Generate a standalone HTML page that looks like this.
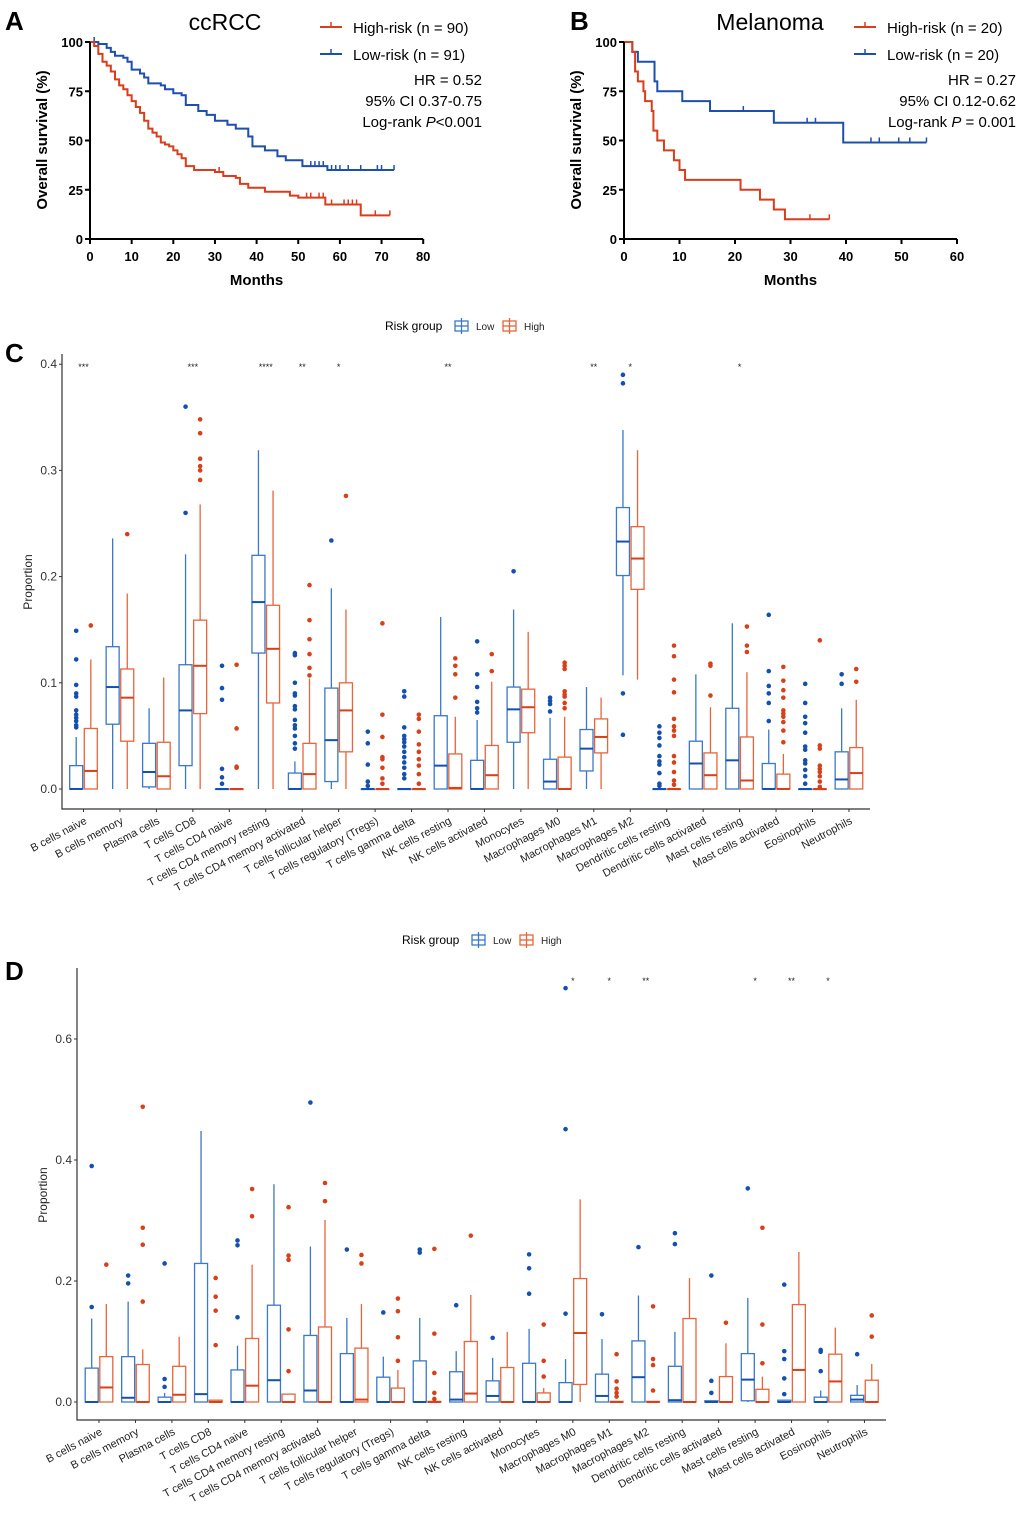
<!DOCTYPE html>
<html><head><meta charset="utf-8"><style>
body{margin:0;background:#fff}
svg{display:block;font-family:"Liberation Sans",Arial,sans-serif}
</style></head><body>
<svg id="fig" width="1020" height="1524" viewBox="0 0 1020 1524" xmlns="http://www.w3.org/2000/svg">
<g id="panelA"></g>
<g id="panelB"></g>
<g id="panelC"></g>
<g id="panelD"></g>
</svg>
<script>
// ---------- KM data ----------
const aHighT=[0,1,2,3,4,5,6,7,8,9,10,11,12,13,14,15,16,17,18,19,20,21,22,23,25,30,32,35,36,38,42,48,50,56.5,65,72];
const aHighS=[100,98,94,90,88,85,81,78,76,73,70,67,64,60,56,54,52,49,48,47,45,43,41,37,35,34,32,31,28,26,24,22,21,17.5,12,12];
const aLowT=[0,2,4,5,6,8,9,10,12,13,14,17,18,20,22,23,26,28,30,33,35,38,39,42,45,47,51,57,73];
const aLowS=[100,99,97,95,93,92,90,86,84,82,79,78,76,74,73,68,65,63,60,58,56,52,47,45,42,40,37,35,35];
const aHighCens=[31,52,53,55,56,58,61,62,63,64,68.5,72];
const aLowCens=[1,53,54,55,56,58,59,60,62,65,69,70,73];
const bHighT=[0,1.5,2,2.5,3.5,3.8,5,5.3,6,7.2,9,10,11,21,24.5,27,29,37];
const bHighS=[100,95,85,80,75,70,65,55,50,45,40,35,30,25,20,15,10,10];
const bLowT=[0,1.5,2.5,5.5,6,10.5,15.5,27,39.5,54.5];
const bLowS=[100,95,90,80,75,70,65,59,49,49];
const bHighCens=[33.5,37];
const bLowCens=[21.5,27,33,34.5,44.5,46,49.5,51.5,54.5];
const aXTicks=[0,10,20,30,40,50,60,70,80];
const bXTicks=[0,10,20,30,40,50,60];
const kmYTicks=[0,25,50,75,100];

// ---------- Box data ----------
const cellTypes=["B cells naive","B cells memory","Plasma cells","T cells CD8","T cells CD4 naive","T cells CD4 memory resting","T cells CD4 memory activated","T cells follicular helper","T cells regulatory (Tregs)","T cells gamma delta","NK cells resting","NK cells activated","Monocytes","Macrophages M0","Macrophages M1","Macrophages M2","Dendritic cells resting","Dendritic cells activated","Mast cells resting","Mast cells activated","Eosinophils","Neutrophils"];
// [lowWhisker, q1, median, q3, highWhisker]
const cLowBox=[[0,0,0,0.022,0.049],[0,0.061,0.096,0.134,0.236],[0,0.002,0.016,0.043,0.076],[0,0.022,0.074,0.117,0.221],[0,0,0,0,0],[0,0.128,0.176,0.22,0.319],[0,0,0,0.015,0.026],[0,0.007,0.046,0.095,0.189],[0,0,0,0,0],[0,0,0,0,0],[0,0,0.022,0.069,0.162],[0,0,0,0.027,0.065],[0,0.044,0.075,0.096,0.169],[0,0,0.007,0.028,0.067],[0,0.017,0.038,0.056,0.096],[0.107,0.201,0.233,0.265,0.338],[0,0,0,0,0],[0,0,0.024,0.045,0.108],[0,0,0.027,0.076,0.156],[0,0,0,0.024,0.056],[0,0,0,0,0],[0,0,0.009,0.035,0.076]];
const cHighBox=[[0,0,0.017,0.057,0.122],[0,0.045,0.086,0.113,0.184],[0,0,0.012,0.044,0.105],[0,0.071,0.116,0.159,0.268],[0,0,0,0,0],[0,0.081,0.132,0.173,0.281],[0,0,0.014,0.043,0.104],[0,0.035,0.074,0.1,0.169],[0,0,0,0,0],[0,0,0,0,0],[0,0,0.001,0.033,0.068],[0,0,0.013,0.041,0.101],[0,0.053,0.077,0.094,0.148],[0,0,0,0.03,0.068],[0,0.034,0.049,0.066,0.086],[0.103,0.188,0.217,0.247,0.319],[0,0,0,0,0],[0,0,0.013,0.034,0.077],[0,0,0.008,0.049,0.11],[0,0,0,0.014,0.033],[0,0,0,0,0],[0,0,0.015,0.039,0.084]];
const cLowOut=[[0.149,0.122,0.098,0.09,0.087,0.074,0.07,0.067,0.064,0.06,0.058],[],[],[0.36,0.26],[0.116,0.095,0.084,0.019,0.011,0.005],[],[0.128,0.126,0.1,0.09,0.088,0.078,0.075,0.065,0.06,0.057,0.05,0.043,0.038],[0.234],[0.054,0.043,0.023,0.007,0.003],[0.092,0.087,0.058,0.05,0.047,0.044,0.04,0.035,0.03,0.025,0.02,0.014,0.01],[],[0.139,0.108,0.096,0.082,0.076,0.072],[0.205],[0.086,0.083,0.08,0.073],[],[0.39,0.382,0.09,0.051],[0.059,0.053,0.048,0.041,0.031,0.026,0.023,0.015,0.005,0.003],[],[],[0.164,0.111,0.097,0.09,0.081,0.064],[0.099,0.081,0.068,0.062,0.053,0.04,0.037,0.027,0.024,0.018,0.012,0.005],[0.108,0.099]];
const cHighOut=[[0.154],[0.24],[],[0.348,0.335,0.311,0.304,0.3,0.291],[0.117,0.057,0.021,0.02],[],[0.192,0.159,0.141,0.127,0.114,0.107],[0.276],[0.156,0.07,0.049,0.03,0.028,0.02,0.01,0.005],[0.07,0.066,0.054,0.042,0.035,0.028,0.022,0.014,0.005],[0.123,0.116,0.108,0.086],[0.127,0.111],[],[0.119,0.116,0.113,0.092,0.089,0.087,0.081,0.076],[],[],[0.135,0.125,0.103,0.091,0.066,0.059,0.055,0.05,0.031,0.025,0.016,0.008,0.004],[0.118,0.116,0.088],[0.153,0.135,0.129],[0.115,0.102,0.093,0.086,0.074,0.071,0.068,0.063,0.055,0.044],[0.14,0.041,0.038,0.022,0.019,0.016,0.012,0.007,0.002],[0.113,0.101]];
const cSig=["***","","","***","","****","**","*","","","**","","","","**","*","","","*","","",""];
const cYTicks=[0,0.1,0.2,0.3,0.4];

const dLowBox=[[0,0,0,0.056,0.138],[0,0,0.007,0.075,0.166],[0,0,0,0.008,0.015],[0,0,0.013,0.229,0.448],[0,0,0,0.053,0.093],[0,0,0.036,0.16,0.36],[0,0,0.019,0.11,0.257],[0,0,0,0.08,0.139],[0,0,0,0.041,0.075],[0,0,0,0.068,0.139],[0,0,0.004,0.05,0.084],[0,0,0.01,0.035,0.073],[0,0,0,0.064,0.121],[0,0,0,0.032,0.071],[0,0,0.01,0.046,0.104],[0,0,0.041,0.101,0.176],[0,0,0.003,0.059,0.116],[0,0,0,0.002,0.002],[0,0.002,0.037,0.08,0.172],[0,0,0,0.003,0.003],[0,0,0,0.008,0.019],[0,0,0.004,0.011,0.028]];
const dHighBox=[[0,0,0.024,0.075,0.162],[0,0,0,0.062,0.087],[0,0,0.012,0.059,0.108],[0,0,0,0.003,0.003],[0,0,0.027,0.105,0.227],[0,0,0,0.013,0.013],[0,0,0,0.124,0.301],[0,0,0.004,0.089,0.162],[0,0,0,0.023,0.053],[0,0,0,0.001,0.001],[0,0,0.014,0.1,0.177],[0,0,0,0.057,0.116],[0,0,0,0.015,0.023],[0,0.029,0.114,0.204,0.335],[0,0,0,0.001,0.001],[0,0,0,0.001,0.001],[0,0,0,0.138,0.205],[0,0,0,0.042,0.097],[0,0,0,0.021,0.042],[0,0,0.053,0.161,0.248],[0,0,0.034,0.079,0.123],[0,0,0,0.036,0.063]];
const dLowOut=[[0.39,0.157],[0.209,0.196],[0.229,0.038,0.025],[],[0.267,0.259,0.14],[],[0.495],[0.252],[0.148],[0.252,0.247],[0.16],[0.106],[0.244,0.221,0.179],[0.684,0.451,0.146],[0.145],[0.256],[0.279,0.261],[0.209,0.035,0.015],[0.353],[0.194,0.084,0.071,0.039,0.013],[0.086,0.083,0.051],[0.079]];
const dHighOut=[[0.227],[0.488,0.288,0.26,0.166],[],[0.205,0.174,0.151,0.094],[0.352,0.307],[0.322,0.242,0.235,0.12,0.051],[0.362,0.332],[0.243,0.229],[0.171,0.15,0.107,0.068],[0.253,0.113,0.048,0.015,0.005],[0.275],[],[0.128,0.068,0.042],[],[0.079,0.034,0.022,0.015,0.009],[0.158,0.071,0.061,0.019],[],[0.131],[0.288,0.128,0.064],[],[],[0.143,0.108]];
const dSig=["","","","","","","","","","","","","","*","*","**","","","*","**","*",""];
const dYTicks=[0,0.2,0.4,0.6];

// ---------- helpers ----------
const NS="http://www.w3.org/2000/svg";
function mk(parent,tag,attrs,text){const e=document.createElementNS(NS,tag);for(const k in attrs)e.setAttribute(k,attrs[k]);if(text!==undefined)e.textContent=text;parent.appendChild(e);return e;}

const KM_RED="#d93d1c", KM_BLUE="#1d4fae";
function drawKM(g,o){
  const sx=m=>o.x0+m*o.xs, sy=s=>o.y0-s*o.ys;
  // panel letter & title
  let t=mk(g,"text",{x:o.letterX,y:30,"font-size":26,"font-weight":"bold"},o.letter);
  
  
  t=mk(g,"text",{x:o.titleX,y:30,"font-size":23,"text-anchor":"middle"},o.title);
  
  
  // curves
  function curve(T,S,cens,col,name){
    let d=`M${sx(T[0])},${sy(S[0])}`;
    for(let i=1;i<T.length;i++){d+=`H${sx(T[i])}V${sy(S[i])}`;}
    const p=mk(g,"path",{d:d,fill:"none",stroke:col,"stroke-width":2});
    
    
    cens.forEach(c=>{let s=S[0];for(let i=0;i<T.length;i++){if(T[i]<=c)s=S[i];}
      const l=mk(g,"line",{x1:sx(c),x2:sx(c),y1:sy(s),y2:sy(s)-5,stroke:col,"stroke-width":1.5});
      
      });
  }
  curve(o.lowT,o.lowS,o.lowC,KM_BLUE,'low-risk');
  curve(o.highT,o.highS,o.highC,KM_RED,'high-risk');
  // axes
  const ax=mk(g,"path",{d:`M${o.x0},${sy(100)}V${o.y0}H${sx(o.xt[o.xt.length-1])}`,fill:"none",stroke:"#000","stroke-width":2});
  
  
  o.xt.forEach(v=>{mk(g,"line",{x1:sx(v),x2:sx(v),y1:o.y0,y2:o.y0+5,stroke:"#000","stroke-width":2});
    const tl=mk(g,"text",{x:sx(v),y:o.y0+22,"font-size":13,"font-weight":"bold","text-anchor":"middle"},v);
    
    });
  kmYTicks.forEach(v=>{mk(g,"line",{x1:o.x0-5,x2:o.x0,y1:sy(v),y2:sy(v),stroke:"#000","stroke-width":2});
    const tl=mk(g,"text",{x:o.x0-7,y:sy(v)+5,"font-size":13,"font-weight":"bold","text-anchor":"end"},v);
    
    });
  t=mk(g,"text",{x:(o.x0+sx(o.xt[o.xt.length-1]))/2,y:285,"font-size":15,"font-weight":"bold","text-anchor":"middle"},"Months");
  
  
  t=mk(g,"text",{x:0,y:0,"font-size":15,"font-weight":"bold","text-anchor":"middle",transform:`translate(${o.x0-43},140) rotate(-90)`},"Overall survival (%)");
  
  
  // legend
  [[KM_RED,o.highLab,27],[KM_BLUE,o.lowLab,54]].forEach(([c,l,y])=>{
    const le=mk(g,"g",{});
    
    
    mk(le,"line",{x1:o.legX,x2:o.legX+22,y1:y,y2:y,stroke:c,"stroke-width":2});
    mk(le,"line",{x1:o.legX+11,x2:o.legX+11,y1:y,y2:y-5,stroke:c,"stroke-width":1.5});
    mk(le,"text",{x:o.legX+33,y:y+6,"font-size":15},l);
  });
  o.stats.forEach((s,i)=>{const st=mk(g,"text",{x:o.statX,y:85+i*21,"font-size":15,"text-anchor":"end"});
    
    
    if(s.includes("P")){const parts=s.split("P");mk(st,"tspan",{},parts[0]);mk(st,"tspan",{"font-style":"italic"},"P");mk(st,"tspan",{},parts[1]);}
    else st.textContent=s;});
}
drawKM(document.getElementById('panelA'),{x0:90,xs:4.165,y0:239,ys:1.97,xt:aXTicks,letter:"A",letterX:5,title:"ccRCC",titleX:225,
  highT:aHighT,highS:aHighS,highC:aHighCens,lowT:aLowT,lowS:aLowS,lowC:aLowCens,legX:320,statX:482,
  highLab:"High-risk (n = 90)",lowLab:"Low-risk (n = 91)",stats:["HR = 0.52","95% CI 0.37-0.75","Log-rank P<0.001"]});
drawKM(document.getElementById('panelB'),{x0:624,xs:5.55,y0:239,ys:1.97,xt:bXTicks,letter:"B",letterX:570,title:"Melanoma",titleX:770,
  highT:bHighT,highS:bHighS,highC:bHighCens,lowT:bLowT,lowS:bLowS,lowC:bLowCens,legX:854,statX:1016,
  highLab:"High-risk (n = 20)",lowLab:"Low-risk (n = 20)",stats:["HR = 0.27","95% CI 0.12-0.62","Log-rank P = 0.001"]});

// ---------- box plots ----------
const LOW_C="#3b78c8", LOW_D="#1450b0", HIGH_C="#e8643a", HIGH_D="#d8401a";
function drawBox(g,o){
  const sy=v=>o.y0-v*o.ys, cx=i=>o.c0+i*o.step;
  let t=mk(g,"text",{x:5,y:o.letterY,"font-size":26,"font-weight":"bold"},o.letter);
  
  
  // legend
  const lg=mk(g,"g",{});
  
  
  mk(lg,"text",{x:o.legX,y:o.legY+4,"font-size":12},"Risk group");
  [[LOW_C,"Low",o.legX+70],[HIGH_C,"High",o.legX+118]].forEach(([c,l,x])=>{
    const le=mk(lg,"g",{});
    
    
    mk(le,"rect",{x:x,y:o.legY-5,width:13,height:10,fill:"none",stroke:c,"stroke-width":1.3});
    mk(le,"line",{x1:x,x2:x+13,y1:o.legY,y2:o.legY,stroke:c,"stroke-width":1.3});
    mk(le,"line",{x1:x+6.5,x2:x+6.5,y1:o.legY-8,y2:o.legY+8,stroke:c,"stroke-width":1.3});
    mk(le,"text",{x:x+21,y:o.legY+4,"font-size":10,fill:"#222"},l);
  });
  // axes
  const ax=mk(g,"path",{d:`M${o.ax},${o.top}V${o.bot}H${o.right}`,fill:"none",stroke:"#333","stroke-width":1.2});
  
  
  o.yt.forEach(v=>{mk(g,"line",{x1:o.ax-3,x2:o.ax,y1:sy(v),y2:sy(v),stroke:"#333"});
    const tl=mk(g,"text",{x:o.ax-5,y:sy(v)+4,"font-size":12,"text-anchor":"end",fill:"#333"},v.toFixed(1));
    
    });
  t=mk(g,"text",{x:0,y:0,"font-size":12,"text-anchor":"middle",fill:"#222",transform:`translate(${o.ax-30},${o.ytY}) rotate(-90)`},"Proportion");
  
  
  cellTypes.forEach((n,i)=>{
    mk(g,"line",{x1:cx(i),x2:cx(i),y1:o.bot,y2:o.bot+3,stroke:"#333"});
    const tl=mk(g,"text",{x:0,y:0,"font-size":11,"text-anchor":"end",fill:"#222",transform:`translate(${cx(i)+4},${o.bot+14}) rotate(-28)`},n);
    
    
    if(o.sig[i]){const s=mk(g,"text",{x:cx(i),y:o.sigY,"font-size":9,"text-anchor":"middle",fill:"#222"},o.sig[i]);
      
      }
    [[o.low[i],o.lowOut[i],-7.3,LOW_C,LOW_D,'low'],[o.high[i],o.highOut[i],7.3,HIGH_C,HIGH_D,'high']].forEach(([b,out,off,c,cd,nm])=>{
      const x=cx(i)+off, bg=mk(g,"g",{});
      
      
      mk(bg,"line",{x1:x,x2:x,y1:sy(b[0]),y2:sy(b[1]),stroke:c,"stroke-width":1.3});
      mk(bg,"line",{x1:x,x2:x,y1:sy(b[3]),y2:sy(b[4]),stroke:c,"stroke-width":1.3});
      mk(bg,"rect",{x:x-6.5,y:sy(b[3]),width:13,height:Math.max(sy(b[1])-sy(b[3]),0.5),fill:"#fff",stroke:c,"stroke-width":1.3});
      mk(bg,"line",{x1:x-6.5,x2:x+6.5,y1:sy(b[2]),y2:sy(b[2]),stroke:cd,"stroke-width":2});
      out.forEach(v=>{const p=mk(bg,"circle",{cx:x,cy:sy(v),r:2.3,fill:cd});
        
        });
    });
  });
}
drawBox(document.getElementById('panelC'),{y0:789,ys:1062,c0:83.5,step:36.45,ax:62,top:354,bot:809,right:870,yt:cYTicks,
  low:cLowBox,high:cHighBox,lowOut:cLowOut,highOut:cHighOut,sig:cSig,sigY:370,letter:"C",letterY:362,legX:385,legY:326,ytY:582});
drawBox(document.getElementById('panelD'),{y0:1402,ys:605,c0:99,step:36.45,ax:77,top:968,bot:1420,right:886,yt:dYTicks,
  low:dLowBox,high:dHighBox,lowOut:dLowOut,highOut:dHighOut,sig:dSig,sigY:984,letter:"D",letterY:980,legX:402,legY:940,ytY:1195});
</script>
</body></html>
